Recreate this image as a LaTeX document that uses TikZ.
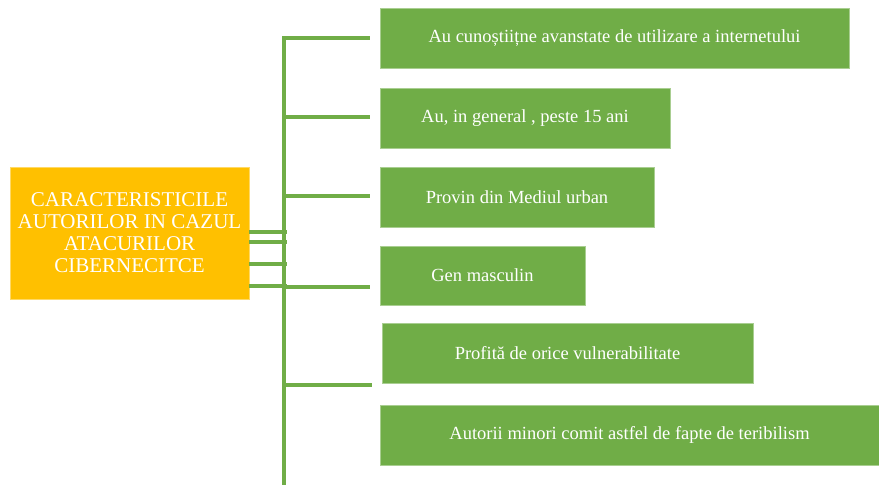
\documentclass[tikz,border=0pt]{standalone}
\usepackage{fontspec}
\setmainfont{Liberation Serif}
\definecolor{gr}{HTML}{70AD47}
\definecolor{orng}{HTML}{FFC000}
\begin{document}
\begin{tikzpicture}[x=1pt,y=-1pt,
  gbox/.style={fill=gr,draw=gr!60!white,line width=0.6pt,text=white,font=\fontsize{18.5}{20}\selectfont,inner sep=0pt},
  conn/.style={draw=gr,line width=3.4pt},
  stub/.style={draw=gr,line width=3.4pt}]
\useasboundingbox (0,0) rectangle (879,485);
\node[fill=orng,draw=orng!60!white,line width=0.6pt,inner sep=0pt,minimum width=239pt,minimum height=132pt,
  text=white,align=center,font=\fontsize{21}{22}\selectfont] (main) at (129.5,233) {CARACTERISTICILE\\AUTORILOR IN CAZUL\\ATACURILOR\\CIBERNECITCE};
\node[gbox,minimum width=469pt,minimum height=60pt] (b1) at (614.5,38) {Au cunoștiițne avanstate de utilizare a internetului};
\node[gbox,minimum width=290pt,minimum height=60pt] (b2) at (525,118) {Au, in general , peste 15 ani};
\node[gbox,minimum width=274pt,minimum height=60pt] (b3) at (517,197) {Provin din Mediul urban};
\node[gbox,minimum width=205pt,minimum height=59pt] (b4) at (482.5,275.5) {Gen masculin};
\node[gbox,minimum width=371pt,minimum height=60pt] (b5) at (567.5,353) {Profită de orice vulnerabilitate};
\node[gbox,minimum width=499pt,minimum height=60pt] (b6) at (629.5,435) {Autorii minori comit astfel de fapte de teribilism};
\coordinate (top) at (284,38);
\coordinate (bot) at (284,485);
\draw[conn] (284,36.3) -- (bot);
\draw[conn] (top) -- (370,38);
\draw[conn] (284,117) -- (370,117);
\draw[conn] (284,196) -- (370,196);
\draw[conn] (284,287) -- (370,287);
\draw[conn] (284,385) -- (372,385);
\draw[stub] (main.east |- 0,232) -- (287,232);
\draw[stub] (main.east |- 0,242) -- (287,242);
\draw[stub] (main.east |- 0,264) -- (287,264);
\draw[stub] (main.east |- 0,286) -- (287,286);
\end{tikzpicture}
\end{document}
